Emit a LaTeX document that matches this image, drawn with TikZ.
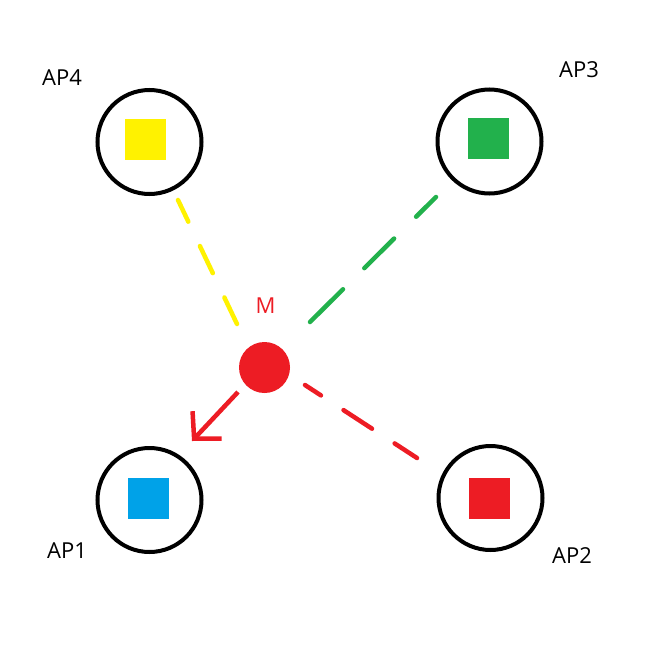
\documentclass[tikz,border=0pt]{standalone}
\usepackage{fontspec}
\setmainfont{Open Sans}
\usetikzlibrary{arrows.meta}
\definecolor{pyellow}{HTML}{FFF200}
\definecolor{pgreen}{HTML}{22B14C}
\definecolor{pred}{HTML}{ED1C24}
\definecolor{pblue}{HTML}{00A2E8}
\tikzset{
  apcircle/.style={draw=black, line width=4pt, circle, minimum size=104pt, inner sep=0pt},
  apsquare/.style={rectangle, minimum size=41pt, inner sep=0pt},
  aplabel/.style={font=\fontsize{22pt}{24pt}\selectfont, inner sep=0pt},
  dashlink/.style={line width=4.5pt, line cap=round},
}
\begin{document}
\begin{tikzpicture}[x=1pt,y=-1pt]
\useasboundingbox[fill=white] (0,0) rectangle (648,648);
% access points
\node[apcircle] (ap4) at (149.5,142) {};
\node[apcircle] (ap3) at (489.5,141.5) {};
\node[apcircle] (ap1) at (149.5,500) {};
\node[apcircle] (ap2) at (490.5,498) {};
\node[apsquare, fill=pyellow] (sq4) at (145,139) {};
\node[apsquare, fill=pgreen] (sq3) at (488,138) {};
\node[apsquare, fill=pblue] (sq1) at (148.5,498.5) {};
\node[apsquare, fill=pred] (sq2) at (489,498) {};
% labels
\node[aplabel] (l4) at (62,78) {AP4};
\node[aplabel] (l3) at (579,70) {AP3};
\node[aplabel] (l1) at (67,551) {AP1};
\node[aplabel] (l2) at (572,556) {AP2};
% mobile
\node[circle, fill=pred, minimum size=51pt, inner sep=0pt] (m) at (264.5,367.5) {};
\node[aplabel, text=pred] (ml) at (265.5,306) {M};
% connector endpoints
\coordinate (y1) at (178,200);
\coordinate (y2) at (237,324);
\coordinate (g1) at (436,197);
\coordinate (g2) at (310,322);
\coordinate (r1) at (305,385);
\coordinate (r2) at (417,458);
\coordinate (a1) at (238,392);
\coordinate (a2) at (192,441);
\draw[dashlink, pyellow, dash pattern=on 24pt off 27pt on 30pt off 27pt on 40pt] (y1) -- (y2);
\draw[dashlink, pgreen, dash pattern=on 28pt off 31pt on 42pt off 30pt on 60pt] (g1) -- (g2);
\draw[dashlink, pred, dash pattern=on 19pt off 27pt on 34pt off 27pt on 40pt] (r1) -- (r2);
\draw[pred, line width=4.5pt, -{Straight Barb[length=19pt, width=40pt, line width=4.5pt]}] (a1) -- (a2);
\end{tikzpicture}
\end{document}
